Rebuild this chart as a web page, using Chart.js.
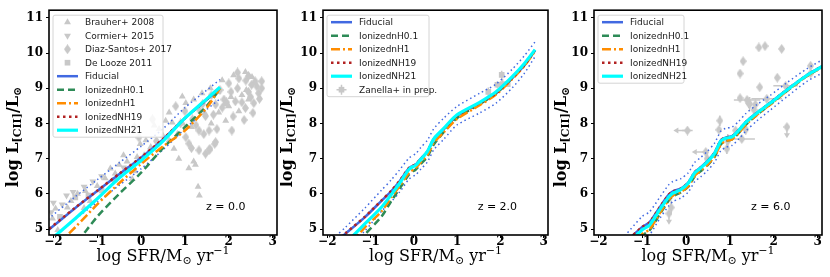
<!DOCTYPE html>
<html>
<head>
<meta charset="utf-8">
<script src="https://cdn.jsdelivr.net/npm/chart.js@4.4.1/dist/chart.umd.min.js"></script>
<style>
  body { margin: 0; background: #fff; }
  #wrap { position: relative; width: 830px; height: 277px; overflow: hidden; }
  canvas { position: absolute; top: 0; }
</style>
</head>
<body>
<div id="wrap">
  <canvas id="p0" width="282" height="277" style="left:0px"></canvas>
  <canvas id="p1" width="272" height="277" style="left:280px"></canvas>
  <canvas id="p2" width="278" height="277" style="left:552px"></canvas>
</div>
<script>
// axis ticks
const xTicks = [-2, -1, 0, 1, 2, 3];
const yTicks = [5, 6, 7, 8, 9, 10, 11];

// ---- z = 0.0 model lines
const sfrLine0 = [-2.2, -1.5, -1.0, -0.5, 0.0, 0.5, 1.0, 1.5, 1.8];
const fid0   = [4.88, 5.60, 6.08, 6.56, 7.03, 7.55, 8.15, 8.68, 9.02];
const fidHi0 = [5.20, 5.92, 6.40, 6.88, 7.35, 7.85, 8.45, 8.95, 9.25];
const fidLo0 = [4.56, 5.28, 5.76, 6.24, 6.71, 7.25, 7.85, 8.40, 8.70];
const h01_0  = [3.40, 4.55, 5.35, 6.00, 6.60, 7.30, 7.90, 8.50, 8.98];
const h1_0   = [4.20, 5.05, 5.70, 6.30, 6.85, 7.35, 7.80, 8.45, 9.00];
const nh19_0 = [4.90, 5.61, 6.09, 6.57, 7.04, 7.56, 8.15, 8.68, 9.02];
const nh21_0 = [4.55, 5.30, 5.86, 6.45, 6.95, 7.50, 8.15, 8.70, 9.03];

// ---- z = 0.0 observations
const brauherSfr = [2.38,2.53,2.11,1.85,2.30,2.45,2.00,1.77,1.93,1.20,1.09,1.24,1.33,1.30,0.86,0.83,0.71,0.64,0.56,0.41,0.30,0.11,0.22,0.64,0.75,-0.02,-0.09,-0.32,-0.50,-0.59,-0.70,-0.82,-1.00,-1.16,-1.27,-1.45,-1.68,-1.95,-2.02,-0.20,-0.14,0.20,0.07,1.02,1.20,0.94,1.39,1.58,2.23,-1.9,-1.6,-1.3,-0.4,1.6,1.15,1.75,2.6,2.05,1.45,0.95,2.4,1.9,0.5];
const brauherL   = [9.46,9.32,9.37,9.23,8.81,8.68,8.49,8.31,8.08,6.92,6.73,6.83,5.95,6.20,7.00,7.70,8.03,8.31,8.08,7.84,7.94,7.52,7.33,7.52,7.28,7.42,7.05,6.92,6.83,6.58,6.72,6.44,6.22,5.80,6.08,6.00,5.61,5.58,5.30,6.42,6.64,7.25,7.10,8.58,8.68,8.77,8.86,9.00,8.35,4.97,5.8,5.6,7.1,8.0,7.9,8.9,9.15,8.75,8.3,8.0,8.95,8.55,7.65];
const cormierSfr = [-2.05,-2.0,-1.8,-1.55,-1.3,-1.1,-0.9,-0.4,-1.7];
const cormierL   = [5.48,5.75,5.7,6.05,6.2,6.35,6.5,6.75,5.95];
const diazSfr = [2.64,2.68,2.23,2.00,2.15,2.38,2.57,1.70,1.89,2.07,1.73,1.55,1.43,1.32,1.70,1.55,1.32,1.09,1.02,0.79,0.26,1.47,1.32,1.17,2.39,2.52,2.70,2.20,1.60,2.45,1.47,1.57,1.68,2.75,-0.05,-0.15,2.60,2.75,2.45,1.85,2.10,2.30,1.65,1.40,1.00,0.90,1.25,2.55,2.35,1.95,0.35,1.15,2.20,2.05,1.80,2.50];
const diazL   = [9.05,8.86,9.28,9.14,8.63,8.44,8.58,8.54,8.68,7.80,7.84,7.80,7.70,7.80,7.47,7.24,7.24,7.43,7.61,8.49,8.12,8.21,8.40,8.12,9.22,9.10,8.70,9.00,8.80,8.90,7.14,7.28,7.42,9.20,7.60,7.90,9.20,9.00,9.35,8.45,8.20,8.60,8.25,8.55,8.35,8.00,7.95,8.30,8.10,8.60,7.50,7.30,9.45,8.90,8.95,8.75];
const deloozeSfr = [-1.5,-1.2,-0.9,-0.6,-0.3,0.0,-1.85];
const deloozeL   = [5.9,5.95,6.1,6.4,6.7,6.95,5.35];

// ---- z = 2.0 model lines
const sfrLine2 = [-1.8,-1.58,-1.13,-0.75,-0.52,-0.33,-0.11,0.05,0.16,0.31,0.46,0.69,0.99,1.52,1.9,2.28,2.55,2.8];
const fid2   = [4.65,4.87,5.34,5.80,6.08,6.36,6.73,6.84,7.00,7.19,7.56,7.84,8.21,8.58,8.86,9.30,9.65,10.08];
const fidHi2 = [4.80,5.05,5.60,6.10,6.40,6.68,7.02,7.15,7.32,7.52,7.85,8.15,8.48,8.86,9.12,9.55,9.92,10.32];
const fidLo2 = [4.20,4.40,4.95,5.50,5.78,6.05,6.42,6.55,6.70,6.90,7.25,7.55,7.95,8.30,8.58,9.02,9.42,9.90];
const h01_2  = [4.00,4.25,4.85,5.35,5.80,6.15,6.55,6.70,6.85,7.05,7.40,7.75,8.15,8.55,8.85,9.30,9.66,10.08];
const h1_2   = [4.25,4.45,5.05,5.50,5.90,6.22,6.60,6.75,6.90,7.10,7.45,7.75,8.12,8.52,8.82,9.27,9.63,10.05];
const nh19_2 = [4.66,4.88,5.35,5.81,6.09,6.37,6.74,6.85,7.00,7.20,7.56,7.84,8.21,8.58,8.86,9.30,9.65,10.08];
const nh21_2 = [4.40,4.60,5.15,5.62,5.98,6.30,6.70,6.82,6.98,7.20,7.56,7.86,8.24,8.60,8.90,9.34,9.70,10.10];

// ---- z = 2.0 observations (Zanella)
const zanSfr = [1.72, 1.93, 2.03, 2.05, 2.17];
const zanL   = [8.90, 9.10, 9.38, 9.12, 9.12];
const zanSfrErr = [0.05, 0.08, 0.06, 0.08, 0.05];
const zanLErr   = [0.12, 0.10, 0.12, 0.15, 0.08];

// ---- z = 6.0 model lines
const sfrLine6 = [-1.4,-1.0,-0.84,-0.6,-0.4,-0.3,-0.12,0.05,0.2,0.33,0.48,0.65,0.79,0.9,1.05,1.2,1.36,1.62,1.92,2.3,2.76,3.15];
const fid6   = [4.60,5.06,5.18,5.62,5.97,6.07,6.15,6.32,6.62,6.75,6.92,7.17,7.52,7.60,7.64,7.81,8.04,8.31,8.59,8.96,9.38,9.66];
const fidHi6 = [4.80,5.36,5.48,5.90,6.25,6.35,6.43,6.60,6.90,7.03,7.20,7.44,7.78,7.86,7.90,8.06,8.28,8.54,8.80,9.16,9.56,9.84];
const fidLo6 = [4.20,4.70,4.82,5.30,5.65,5.78,5.88,6.05,6.35,6.48,6.65,6.90,7.22,7.32,7.38,7.56,7.78,8.08,8.38,8.76,9.20,9.46];
const h01_6  = [4.33,4.82,4.95,5.42,5.80,5.93,6.04,6.20,6.50,6.64,6.80,7.05,7.40,7.50,7.55,7.73,7.96,8.25,8.54,8.92,9.35,9.63];
const h1_6   = [4.38,4.86,4.98,5.45,5.82,5.95,6.05,6.22,6.52,6.66,6.82,7.06,7.40,7.50,7.55,7.73,7.96,8.25,8.54,8.92,9.35,9.63];
const nh19_6 = [4.61,5.06,5.18,5.62,5.97,6.07,6.15,6.32,6.62,6.75,6.92,7.17,7.52,7.60,7.64,7.81,8.04,8.31,8.59,8.96,9.38,9.66];
const nh21_6 = [4.50,4.98,5.10,5.55,5.90,6.02,6.12,6.30,6.60,6.73,6.90,7.15,7.50,7.58,7.62,7.80,8.03,8.30,8.58,8.95,9.37,9.65];

// ---- z = 6.0 observations
const obsSfr6 = [1.66,1.80,2.18,1.30,1.23,1.68,2.08,2.27,1.23,1.39,1.55,1.84,2.84,2.84,2.30,0.77,0.75,0.03,0.45,0.48,0.93,1.27,1.36,-0.39,-0.34,1.45,0.95,1.13,1.58,1.43];
const obsL6   = [10.16,10.2,10.12,9.77,9.42,9.03,9.3,9.07,8.72,8.67,8.39,8.7,9.64,9.42,7.9,8.08,7.82,7.8,7.19,7.0,7.28,7.56,7.83,5.44,5.61,8.55,7.5,7.8,8.54,8.58];
const obsSfrErr6 = [0,0,0,0,0,0,0,0.28,0,0.3,0,0.35,0,0,0,0,0,0.12,0,0,0,0.3,0,0,0,0,0,0,0,0];
const obsLErr6   = [0,0,0,0,0,0,0,0,0,0,0,0,0,0,0,0.15,0,0,0,0.2,0.15,0,0.15,0,0.2,0.2,0.2,0,0,0.15];
const obsLim6    = ['','','','','','','','','','','','','','','down','','','left','left','','','','','down','','','','','',''];

const GREY = '#c8c8c8';
const SERIF = '"DejaVu Serif", serif';
const SANS = '"DejaVu Sans", sans-serif';

// thin diamond marker
function thinDiamond() {
  const c = document.createElement('canvas');
  c.width = 7; c.height = 10;
  const g = c.getContext('2d');
  g.fillStyle = GREY;
  g.beginPath(); g.moveTo(3.5, 0); g.lineTo(7, 5); g.lineTo(3.5, 10); g.lineTo(0, 5); g.closePath(); g.fill();
  return c;
}
const DIAMOND = thinDiamond();

const pts = (xs, ys) => xs.map((x, i) => ({ x: x, y: ys[i] }));

function line(label, xs, ys, color, width, dash, order) {
  return {
    label: label, data: pts(xs, ys), showLine: true, pointRadius: 0, pointHoverRadius: 0,
    borderColor: color, backgroundColor: color, borderWidth: width, borderDash: dash,
    tension: 0.25, fill: false, order: order, clip: 0
  };
}
function models(sfr, fid, hi, lo, h01, h1, nh19, nh21) {
  return [
    line('Fiducial', sfr, fid, '#4169e1', 2.5, [], 6),
    line('IonizednH0.1', sfr, h01, '#2e8b57', 2.5, [7, 4], 5),
    line('IonizednH1', sfr, h1, '#ff8c00', 2.5, [9, 3, 2, 3], 4),
    line('IonizedNH19', sfr, nh19, '#b22222', 2.5, [2.5, 3.5], 3),
    line('IonizedNH21', sfr, nh21, '#00ffff', 3.2, [], 2),
    line('', sfr, hi, '#4169e1', 1.5, [1.5, 3], 7),
    line('', sfr, lo, '#4169e1', 1.5, [1.5, 3], 7)
  ];
}
function obs(label, xs, ys, style, r, rot) {
  return {
    label: label, data: pts(xs, ys), showLine: false, pointStyle: style, pointRadius: r,
    pointRotation: rot || 0, pointHoverRadius: r, backgroundColor: GREY, borderWidth: 0,
    order: 20, clip: 0
  };
}

// error bars and limit arrows, drawn under the markers
const errorBars = {
  id: 'errorBars',
  beforeDatasetsDraw(chart) {
    const ctx = chart.ctx, a = chart.chartArea, xs = chart.scales.x, ys = chart.scales.y;
    ctx.save();
    ctx.beginPath(); ctx.rect(a.left, a.top, a.width, a.height); ctx.clip();
    const seg = (x1, y1, x2, y2) => { ctx.beginPath(); ctx.moveTo(x1, y1); ctx.lineTo(x2, y2); ctx.stroke(); };
    chart.data.datasets.forEach(d => {
      if (!d.errX && !d.errY && !d.lim) return;
      ctx.strokeStyle = GREY; ctx.fillStyle = GREY; ctx.lineWidth = 1.5;
      d.data.forEach((p, i) => {
        const px = xs.getPixelForValue(p.x), py = ys.getPixelForValue(p.y);
        const ex = d.errX ? d.errX[i] : 0, ey = d.errY ? d.errY[i] : 0;
        if (ex) seg(xs.getPixelForValue(p.x - ex), py, xs.getPixelForValue(p.x + ex), py);
        if (ey) seg(px, ys.getPixelForValue(p.y - ey), px, ys.getPixelForValue(p.y + ey));
        const lim = d.lim ? d.lim[i] : '';
        if (lim === 'left') {
          const tx = xs.getPixelForValue(p.x - 0.32);
          seg(px, py, tx + 4, py);
          ctx.beginPath(); ctx.moveTo(tx, py); ctx.lineTo(tx + 5, py - 3); ctx.lineTo(tx + 5, py + 3); ctx.closePath(); ctx.fill();
        }
        if (lim === 'down') {
          const ty = ys.getPixelForValue(p.y - 0.32);
          seg(px, py, px, ty - 4);
          ctx.beginPath(); ctx.moveTo(px, ty); ctx.lineTo(px - 3, ty - 5); ctx.lineTo(px + 3, ty - 5); ctx.closePath(); ctx.fill();
        }
      });
    });
    ctx.restore();
  }
};

// legend box inside the axes
const boxLegend = {
  id: 'boxLegend',
  afterDatasetsDraw(chart, args, o) {
    const ctx = chart.ctx, a = chart.chartArea;
    const items = chart.data.datasets.filter(d => d.label);
    const bx = a.left + 4, by = a.top + 5, rh = 13.5;
    const bh = 7 + (items.length - 1) * rh + 7;
    ctx.save();
    ctx.beginPath();
    if (ctx.roundRect) ctx.roundRect(bx, by, o.width, bh, 2); else ctx.rect(bx, by, o.width, bh);
    ctx.globalAlpha = 0.85; ctx.fillStyle = '#fff'; ctx.fill();
    ctx.globalAlpha = 1; ctx.strokeStyle = '#d4d4d4'; ctx.lineWidth = 1; ctx.stroke();
    ctx.font = '9px ' + SANS; ctx.textBaseline = 'middle'; ctx.textAlign = 'left';
    items.forEach((d, i) => {
      const cy = by + 7 + i * rh, x1 = bx + 4, x2 = bx + 25, cx = (x1 + x2) / 2;
      if (d.showLine) {
        ctx.strokeStyle = d.borderColor; ctx.lineWidth = d.borderWidth; ctx.setLineDash(d.borderDash);
        ctx.beginPath(); ctx.moveTo(x1, cy); ctx.lineTo(x2, cy); ctx.stroke(); ctx.setLineDash([]);
      } else {
        if (d.errX) {
          ctx.strokeStyle = GREY; ctx.lineWidth = 1.5;
          ctx.beginPath(); ctx.moveTo(cx - 5, cy); ctx.lineTo(cx + 5, cy); ctx.moveTo(cx, cy - 5); ctx.lineTo(cx, cy + 5); ctx.stroke();
        }
        ctx.fillStyle = GREY;
        Chart.helpers.drawPoint(ctx, { pointStyle: d.pointStyle, radius: d.pointRadius, rotation: d.pointRotation, borderWidth: 0 }, cx, cy);
      }
      ctx.fillStyle = '#1a1a1a';
      ctx.fillText(d.label, bx + 32, cy + 0.5);
    });
    ctx.restore();
  }
};

// frame, axis titles with sub/superscripts, redshift label
function drawPieces(ctx, pieces) {
  let total = 0;
  pieces.forEach(p => { ctx.font = p.f; total += ctx.measureText(p.t).width; });
  let x = -total / 2;
  pieces.forEach(p => { ctx.font = p.f; ctx.fillText(p.t, x, p.dy || 0); x += ctx.measureText(p.t).width; });
}
const decor = {
  id: 'decor',
  afterDraw(chart, args, o) {
    const ctx = chart.ctx, a = chart.chartArea;
    ctx.save();
    ctx.strokeStyle = '#000'; ctx.lineWidth = 1.6;
    ctx.strokeRect(a.left, a.top, a.width, a.height);
    ctx.fillStyle = '#000'; ctx.textBaseline = 'middle'; ctx.textAlign = 'left';
    const big = 'bold 16px ' + SERIF, small = 'bold 11px ' + SERIF;
    // y title
    ctx.save();
    ctx.translate(o.yTitleX, 137);
    ctx.rotate(-Math.PI / 2);
    drawPieces(ctx, [{ t: 'log L', f: big }, { t: '[CII]', f: small, dy: 4 }, { t: '/L', f: big }, { t: '\u2299', f: small, dy: 4 }]);
    ctx.restore();
    // x title
    ctx.save();
    ctx.translate((a.left + a.right) / 2, 257);
    const nb = '16px ' + SERIF, ns = '11px ' + SERIF;
    drawPieces(ctx, [{ t: 'log SFR/M', f: nb }, { t: '\u2299', f: ns, dy: 4 }, { t: ' yr', f: nb }, { t: '\u22121', f: ns, dy: -6 }]);
    ctx.restore();
    // redshift
    ctx.font = '11px ' + SANS; ctx.textAlign = 'center';
    ctx.fillText(o.zText, a.left + 0.775 * a.width, a.top + 0.878 * a.height);
    ctx.restore();
  }
};

const fmt = v => (v < 0 ? '\u2212' + Math.abs(v) : String(v));

function makePanel(id, leftW, padRight, yTitleX, legendW, zText, datasets) {
  return new Chart(document.getElementById(id), {
    type: 'scatter',
    data: { datasets: datasets },
    options: {
      responsive: false, animation: false, devicePixelRatio: 1,
      layout: { padding: { top: 5, right: padRight, left: 0, bottom: 0 } },
      plugins: {
        legend: { display: false }, tooltip: { enabled: false },
        boxLegend: { width: legendW },
        decor: { yTitleX: yTitleX, zText: zText }
      },
      scales: {
        x: {
          type: 'linear', min: -2.1, max: 3.1,
          afterBuildTicks: s => { s.ticks = xTicks.map(v => ({ value: v })); },
          afterFit: s => { s.height = 42; },
          grid: { drawOnChartArea: false, drawTicks: true, tickLength: 3, color: '#000' },
          border: { display: false },
          ticks: { callback: fmt, color: '#000', padding: -2, autoSkip: false, maxRotation: 0, font: { family: SERIF, weight: 'bold', size: 12, lineHeight: 1 } }
        },
        y: {
          type: 'linear', min: 4.83, max: 11.22,
          afterBuildTicks: s => { s.ticks = yTicks.map(v => ({ value: v })); },
          afterFit: s => { s.width = leftW; },
          grid: { drawOnChartArea: false, drawTicks: true, tickLength: 3, color: '#000' },
          border: { display: false },
          ticks: { callback: fmt, color: '#000', padding: 3, autoSkip: false, font: { family: SERIF, weight: 'bold', size: 12 } }
        }
      }
    },
    plugins: [errorBars, boxLegend, decor]
  });
}

// panel z = 0
makePanel('p0', 49, 4, 14, 110, 'z = 0.0', [
  obs('Brauher+ 2008', brauherSfr, brauherL, 'triangle', 4),
  obs('Cormier+ 2015', cormierSfr, cormierL, 'triangle', 4, 180),
  obs('Diaz-Santos+ 2017', diazSfr, diazL, DIAMOND, 5),
  obs('De Looze 2011', deloozeSfr, deloozeL, 'rect', 4),
  ...models(sfrLine0, fid0, fidHi0, fidLo0, h01_0, h1_0, nh19_0, nh21_0)
]);

// panel z = 2
const zan = obs('Zanella+ in prep.', zanSfr, zanL, 'rect', 4);
zan.errX = zanSfrErr; zan.errY = zanLErr;
makePanel('p1', 43, 4, 8, 102, 'z = 2.0', [
  ...models(sfrLine2, fid2, fidHi2, fidLo2, h01_2, h1_2, nh19_2, nh21_2),
  zan
]);

// panel z = 6
const hiz = obs('', obsSfr6, obsL6, DIAMOND, 5);
hiz.errX = obsSfrErr6; hiz.errY = obsLErr6; hiz.lim = obsLim6;
makePanel('p2', 42, 8, 10, 86, 'z = 6.0', [
  ...models(sfrLine6, fid6, fidHi6, fidLo6, h01_6, h1_6, nh19_6, nh21_6),
  hiz
]);
</script>
</body>
</html>
